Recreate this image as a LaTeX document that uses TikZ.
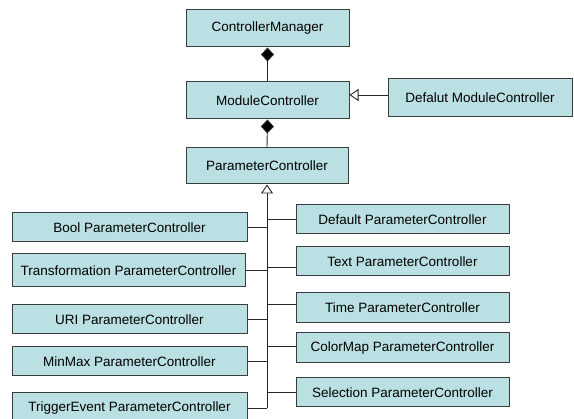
\documentclass[tikz,border=0pt]{standalone}
\usepackage{fontspec}
\setmainfont{Liberation Sans}
\usetikzlibrary{arrows.meta}
\definecolor{boxfill}{RGB}{187,224,227}
\definecolor{boxline}{RGB}{60,60,60}
\tikzset{
  cls/.style={draw=boxline, fill=boxfill, line width=1pt, inner sep=0pt,
    font=\fontsize{13.5}{16}\selectfont, anchor=center},
  conn/.style={draw=black!85, line width=0.9pt},
  comp/.style={conn, -{Diamond[length=14pt,width=13pt,fill=black]}},
  gen/.style={conn, -{Triangle[open,length=9pt,width=12pt,fill=white]}}
}
\begin{document}
\begin{tikzpicture}[x=1pt,y=-1pt]
\useasboundingbox (0,0) rectangle (574,419);
\clip (0,0) rectangle (574,419);
% top chain
\node[cls, minimum width=163pt, minimum height=37pt] (cm) at (267.5,28.5) {ControllerManager};
\node[cls, minimum width=163pt, minimum height=37pt] (mc) at (267.5,100.5) {ModuleController};
\node[cls, minimum width=162pt, minimum height=36pt] (pc) at (267,166) {ParameterController};
\node[cls, minimum width=184pt, minimum height=38pt] (dmc) at (480,98) {Defalut ModuleController};
% left column
\node[cls, minimum width=235pt, minimum height=29pt] (bool) at (129.5,227.5) {Bool ParameterController};
\node[cls, minimum width=233pt, minimum height=33pt] (trans) at (128.5,270.5) {Transformation ParameterController};
\node[cls, minimum width=235pt, minimum height=29pt] (uri) at (129.5,319.5) {URI ParameterController};
\node[cls, minimum width=235pt, minimum height=29pt] (minmax) at (129.5,361.5) {MinMax ParameterController};
\node[cls, minimum width=235pt, minimum height=30pt] (trig) at (129.5,408) {TriggerEvent ParameterController};
% right column
\node[cls, minimum width=213pt, minimum height=29pt] (def) at (402.5,219.5) {Default ParameterController};
\node[cls, minimum width=213pt, minimum height=29pt] (text) at (402.5,261.5) {Text ParameterController};
\node[cls, minimum width=213pt, minimum height=30pt] (time) at (402.5,308) {Time ParameterController};
\node[cls, minimum width=213pt, minimum height=30pt] (cmap) at (402.5,348) {ColorMap ParameterController};
\node[cls, minimum width=213pt, minimum height=29pt] (sel) at (402.5,392.5) {Selection ParameterController};
% composition
\draw[comp] (mc.north) -- (cm.south);
\draw[comp] (pc.north) -- (mc.south);
% generalization of module controller
\draw[gen] ([yshift=3pt]dmc.west) -- ([yshift=3pt]dmc.west -| mc.east);
% trunk
\coordinate (tb) at (267,408);
\draw[gen] (tb) -- (pc.south);
\draw[conn] (bool.east) -- (bool.east -| tb);
\draw[conn] (trans.east) -- (trans.east -| tb);
\draw[conn] (uri.east) -- (uri.east -| tb);
\draw[conn] (minmax.east) -- (minmax.east -| tb);
\draw[conn] (trig.east) -- (tb);
\draw[conn] (def.west) -- (def.west -| tb);
\draw[conn] ([yshift=-6pt]text.west) -- ([yshift=-6pt]text.west -| tb);
\draw[conn] ([yshift=4pt]time.west) -- ([yshift=4pt]time.west -| tb);
\draw[conn] ([yshift=2pt]cmap.west) -- ([yshift=2pt]cmap.west -| tb);
\draw[conn] (sel.west) -- (sel.west -| tb);
\end{tikzpicture}
\end{document}
